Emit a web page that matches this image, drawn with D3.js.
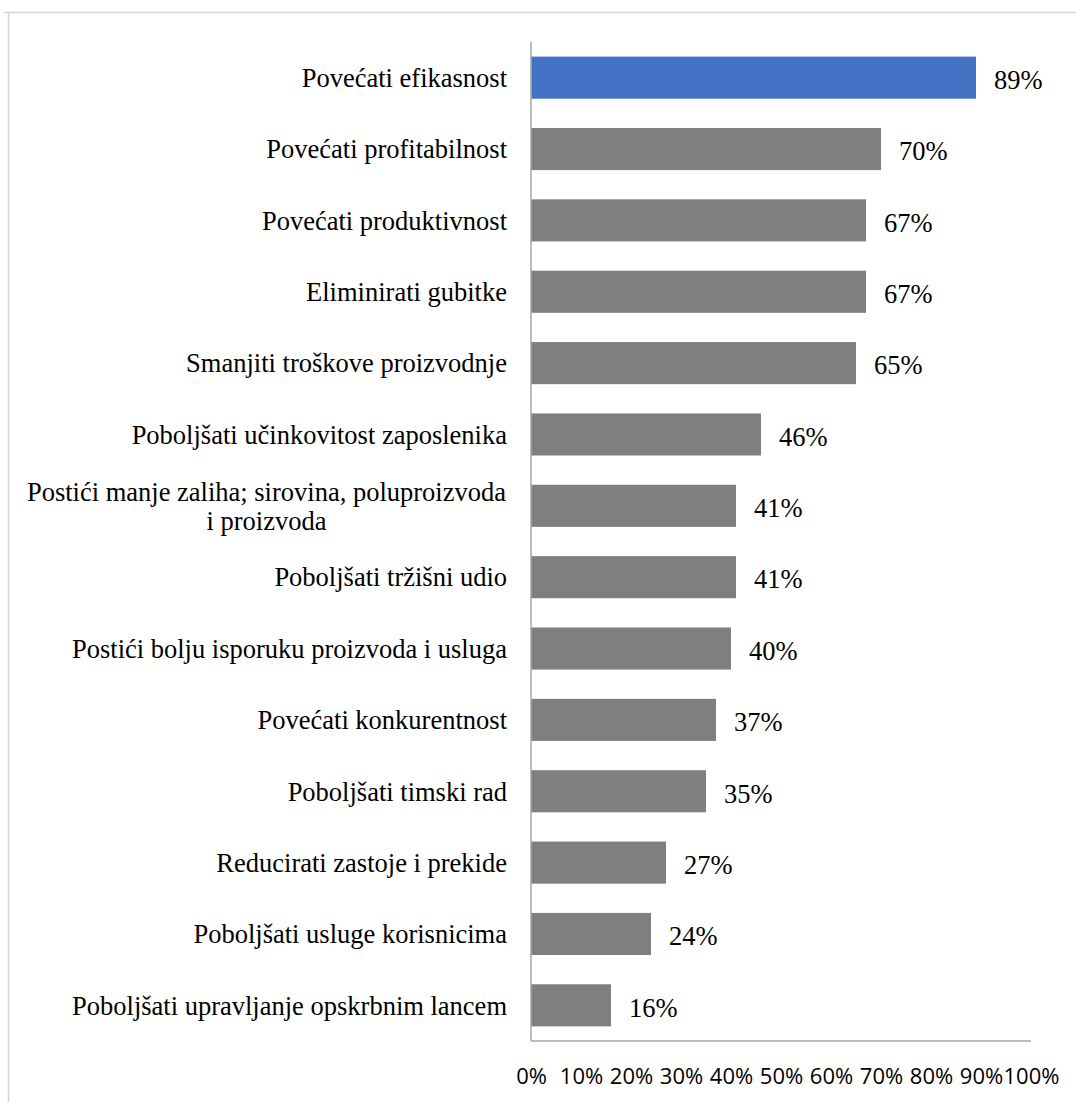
<!DOCTYPE html>
<html>
<head>
<meta charset="utf-8">
<script src="https://cdn.jsdelivr.net/npm/d3@7"></script>
<style>
html,body{margin:0;padding:0;background:#fff;}
svg{display:block;}
</style>
</head>
<body>
<svg id="chart" width="1076" height="1102"></svg>
<script>
const categories = [
  "Povećati efikasnost",
  "Povećati profitabilnost",
  "Povećati produktivnost",
  "Eliminirati gubitke",
  "Smanjiti troškove proizvodnje",
  "Poboljšati učinkovitost zaposlenika",
  "Postići manje zaliha; sirovina, poluproizvoda\ni proizvoda",
  "Poboljšati tržišni udio",
  "Postići bolju isporuku proizvoda i usluga",
  "Povećati konkurentnost",
  "Poboljšati timski rad",
  "Reducirati zastoje i prekide",
  "Poboljšati usluge korisnicima",
  "Poboljšati upravljanje opskrbnim lancem"
];
const values = [89, 70, 67, 67, 65, 46, 41, 41, 40, 37, 35, 27, 24, 16];
const highlighted = [true, false, false, false, false, false, false, false, false, false, false, false, false, false];
const tickValues = [0, 10, 20, 30, 40, 50, 60, 70, 80, 90, 100];

const svg = d3.select("#chart");

// outer frame (only top and left edges visible)
svg.append("line").attr("x1", 4).attr("x2", 1076).attr("y1", 12.5).attr("y2", 12.5)
  .attr("stroke", "#d4d4d4").attr("stroke-width", 1.5);
svg.append("line").attr("x1", 8.5).attr("x2", 8.5).attr("y1", 12).attr("y2", 1102)
  .attr("stroke", "#d4d4d4").attr("stroke-width", 1.5);

const x = d3.scaleLinear().domain([0, 100]).range([531, 1031]);
const y = d3.scaleBand().domain(categories).range([42, 1041]).paddingInner(0.41).paddingOuter(0.205);

// bars
svg.append("g").selectAll("rect").data(categories).join("rect")
  .attr("x", x(0))
  .attr("y", d => y(d))
  .attr("width", (d, i) => x(values[i]) - x(0))
  .attr("height", y.bandwidth())
  .attr("fill", (d, i) => highlighted[i] ? "#4472C4" : "#7F7F7F");

// axis lines
svg.append("line").attr("x1", x(0)).attr("x2", x(0)).attr("y1", 42).attr("y2", 1041)
  .attr("stroke", "#a6a6a6").attr("stroke-width", 1.5);
svg.append("line").attr("x1", x(0)).attr("x2", x(100)).attr("y1", 1041).attr("y2", 1041)
  .attr("stroke", "#a6a6a6").attr("stroke-width", 1.5);

// category labels
const catG = svg.append("g")
  .attr("font-family", "'Liberation Serif', 'Times New Roman', serif")
  .attr("font-size", 26.5).attr("fill", "#000");
categories.forEach((c, i) => {
  const lines = c.split("\n");
  const cy = y(c) + y.bandwidth() / 2;
  if (lines.length === 1) {
    catG.append("text").attr("x", 507).attr("y", cy).attr("dy", "0.35em")
      .attr("text-anchor", "end").text(c);
  } else {
    const lh = 29;
    const tmp = catG.append("text").text(lines[0]);
    const w0 = tmp.node().getComputedTextLength();
    tmp.remove();
    const center = 506 - w0 / 2;
    lines.forEach((ln, k) => {
      catG.append("text").attr("x", center).attr("text-anchor", "middle")
        .attr("y", cy + (k - (lines.length - 1) / 2) * lh).attr("dy", "0.35em").text(ln);
    });
  }
});

// value labels
svg.append("g")
  .attr("font-family", "'Liberation Serif', 'Times New Roman', serif")
  .attr("font-size", 26.5).attr("fill", "#000")
  .selectAll("text").data(categories).join("text")
  .attr("x", (d, i) => x(values[i]) + 18)
  .attr("y", d => y(d) + y.bandwidth() / 2 + 2)
  .attr("dy", "0.35em")
  .text((d, i) => values[i] + "%");

// x tick labels
const xAxis = d3.axisBottom(x).tickValues(tickValues).tickSize(0).tickPadding(0)
  .tickFormat(d => d + "%");
const ax = svg.append("g").attr("transform", "translate(0,1041)").call(xAxis);
ax.select(".domain").remove();
ax.selectAll("text")
  .attr("font-family", "'Open Sans', 'Liberation Sans', sans-serif")
  .attr("font-size", 22).attr("fill", "#000")
  .attr("y", 35).attr("dy", "0.35em");
</script>
</body>
</html>
